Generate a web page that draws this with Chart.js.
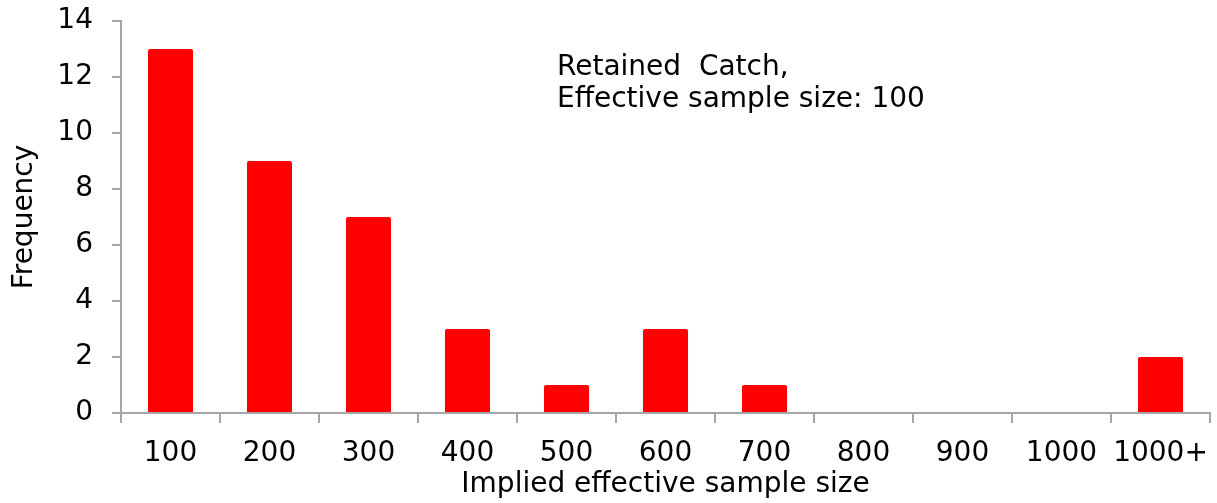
<!DOCTYPE html>
<html>
<head>
<meta charset="utf-8">
<script src="https://cdn.jsdelivr.net/npm/chart.js@4.4.1/dist/chart.umd.min.js"></script>
<style>
  html, body { margin: 0; padding: 0; background: #fff; }
  canvas { display: block; }
</style>
</head>
<body>
<canvas id="chart" width="1217" height="503"></canvas>
<script>
var categories = ['100', '200', '300', '400', '500', '600', '700', '800', '900', '1000', '1000+'];
var frequency = [13, 9, 7, 3, 1, 3, 1, 0, 0, 0, 2];
var yTicks = [0, 2, 4, 6, 8, 10, 12, 14];
var noteLines = ['Retained  Catch,', 'Effective sample size: 100'];

var FONT = "'DejaVu Sans', Arial, sans-serif";
var AXIS_GREY = '#a6a6a6';

var notePlugin = {
    id: 'note',
    afterDraw: function (chart) {
        var ctx = chart.ctx;
        ctx.save();
        ctx.fillStyle = '#000';
        ctx.font = '28px ' + FONT;
        ctx.textAlign = 'left';
        ctx.textBaseline = 'alphabetic';
        noteLines.forEach(function (line, i) {
            ctx.fillText(line, 557, 75 + i * 31.5);
        });
        ctx.restore();
    }
};

var ctx = document.getElementById('chart').getContext('2d');
new Chart(ctx, {
    type: 'bar',
    data: {
        labels: categories,
        datasets: [{
            label: 'Frequency',
            data: frequency,
            backgroundColor: '#ff0000',
            borderWidth: 0,
            borderRadius: { topLeft: 2, topRight: 2 },
            categoryPercentage: 1,
            barPercentage: 0.455
        }]
    },
    options: {
        responsive: false,
        animation: false,
        layout: { padding: { top: 21, right: 7, bottom: 0, left: 0 } },
        plugins: {
            legend: { display: false },
            tooltip: { enabled: false }
        },
        scales: {
            x: {
                offset: true,
                grid: {
                    offset: true,
                    drawOnChartArea: false,
                    color: AXIS_GREY,
                    tickLength: 10,
                    lineWidth: 2
                },
                border: { color: AXIS_GREY, width: 2 },
                ticks: {
                    color: '#000',
                    font: { family: FONT, size: 28 },
                    padding: 14,
                    maxRotation: 0,
                    autoSkip: false
                },
                title: {
                    display: true,
                    text: 'Implied effective sample size',
                    color: '#000',
                    font: { family: FONT, size: 28 },
                    padding: { top: 0, bottom: 1 }
                },
                afterFit: function (scale) {
                    scale.height = 90;
                    scale.paddingLeft = 0;
                    scale.paddingRight = 0;
                }
            },
            y: {
                min: 0,
                max: 14,
                afterBuildTicks: function (scale) {
                    scale.ticks = yTicks.map(function (v) { return { value: v }; });
                },
                grid: {
                    drawOnChartArea: false,
                    color: AXIS_GREY,
                    tickLength: 9,
                    lineWidth: 2
                },
                border: { color: AXIS_GREY, width: 2 },
                ticks: {
                    color: '#000',
                    font: { family: FONT, size: 28 },
                    padding: 19
                },
                title: {
                    display: true,
                    text: 'Frequency',
                    color: '#000',
                    font: { family: FONT, size: 28 },
                    padding: { top: 8, bottom: 0 }
                },
                afterFit: function (scale) {
                    scale.width = 121;
                    scale.paddingTop = 0;
                    scale.paddingBottom = 0;
                }
            }
        }
    },
    plugins: [notePlugin]
});
</script>
</body>
</html>
